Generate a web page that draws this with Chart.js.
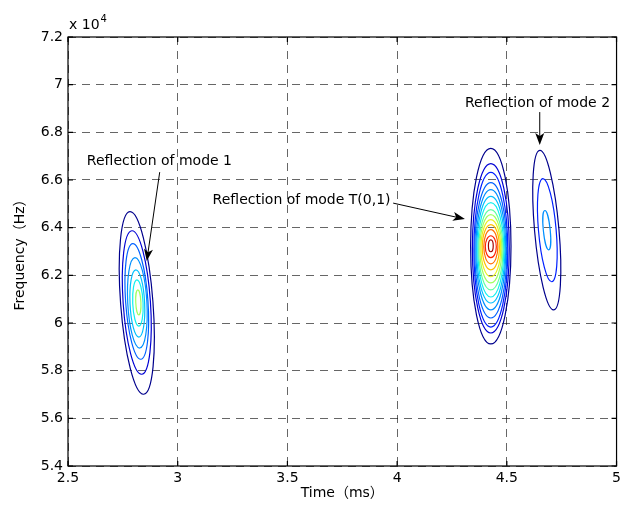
<!DOCTYPE html>
<html>
<head>
<meta charset="utf-8">
<script src="https://cdn.jsdelivr.net/npm/chart.js@4.4.0/dist/chart.umd.min.js"></script>
<style>
  html, body { margin: 0; padding: 0; background: #fff; }
  #chart { display: block; }
</style>
</head>
<body>
<canvas id="chart" width="625" height="509"></canvas>
<script>
// Trục
const xMin = 2.5, xMax = 5, xStep = 0.5;
const yMin = 5.4, yMax = 7.2, yStep = 0.2;

// Đường đồng mức: đỉnh, đáy (ms, x10^4 Hz) và nửa bề rộng (ms)
const mode1TopX = [2.782, 2.791, 2.795, 2.805, 2.809, 2.814, 2.818];
const mode1TopY = [6.467, 6.387, 6.333, 6.274, 6.223, 6.181, 6.139];
const mode1BottomX = [2.845, 2.836, 2.832, 2.827, 2.823, 2.823, 2.823];
const mode1BottomY = [5.701, 5.785, 5.848, 5.895, 5.941, 5.987, 6.034];
const mode1HalfWidth = [0.080, 0.066, 0.054, 0.045, 0.034, 0.024, 0.012];
const mode1Level = [1, 2, 4, 5, 6, 7, 9];

const t01TopX = [4.427, 4.427, 4.427, 4.427, 4.427, 4.427, 4.427, 4.427, 4.427, 4.427, 4.427, 4.427, 4.427, 4.427];
const t01TopY = [6.733, 6.669, 6.632, 6.589, 6.560, 6.531, 6.505, 6.476, 6.455, 6.434, 6.413, 6.392, 6.366, 6.349];
const t01BottomX = [4.427, 4.427, 4.427, 4.427, 4.427, 4.427, 4.427, 4.427, 4.427, 4.427, 4.427, 4.427, 4.427, 4.427];
const t01BottomY = [5.912, 5.958, 5.983, 6.021, 6.055, 6.084, 6.109, 6.139, 6.168, 6.194, 6.223, 6.248, 6.274, 6.299];
const t01HalfWidth = [0.092, 0.084, 0.077, 0.073, 0.068, 0.064, 0.059, 0.055, 0.050, 0.045, 0.039, 0.032, 0.025, 0.011];
const t01Level = [1, 2, 3, 4, 5, 6, 7, 8, 9, 10, 11, 12, 13, 14];

const mode2TopX = [4.650, 4.664, 4.673];
const mode2TopY = [6.724, 6.606, 6.472];
const mode2BottomX = [4.714, 4.705, 4.691];
const mode2BottomY = [6.055, 6.173, 6.307];
const mode2HalfWidth = [0.064, 0.045, 0.018];
const mode2Level = [1, 3, 5];

// Chú thích và mũi tên
const noteTexts = ['Reflection of mode 1', 'Reflection of mode T(0,1)', 'Reflection of mode 2'];
const noteX = [2.586, 3.159, 4.309];
const noteY = [6.680, 6.516, 6.923];
const arrowFromX = [2.918, 3.982, 4.650];
const arrowFromY = [6.633, 6.503, 6.885];
const arrowToX = [2.859, 4.309, 4.650];
const arrowToY = [6.260, 6.436, 6.747];

// Bảng màu kiểu jet theo mức
const levelColors = [null, '#00008c', '#0000d4', '#0020ff', '#0060ff', '#0090ff', '#00c0ff',
  '#10f0ef', '#60ffa0', '#a0ff60', '#e8f020', '#ffc000', '#ff7000', '#ff2000', '#a00000'];

const FONT = "'DejaVu Sans', 'Noto Sans CJK SC', sans-serif";

const groups = [
  [mode1TopX, mode1TopY, mode1BottomX, mode1BottomY, mode1HalfWidth, mode1Level],
  [t01TopX, t01TopY, t01BottomX, t01BottomY, t01HalfWidth, t01Level],
  [mode2TopX, mode2TopY, mode2BottomX, mode2BottomY, mode2HalfWidth, mode2Level]
];

function drawContour(ctx, x, y, tX, tY, bX, bY, hw, color) {
  const tx = x.getPixelForValue(tX), ty = y.getPixelForValue(tY);
  const bx = x.getPixelForValue(bX), by = y.getPixelForValue(bY);
  const cx = (tx + bx) / 2, cy = (ty + by) / 2;
  const dx = (bx - tx) / 2, dy = (by - ty) / 2;
  const a = Math.hypot(dx, dy);
  const rot = -Math.atan2(dx, dy);
  const hwPx = x.getPixelForValue(tX + hw) - tx;
  const b = Math.sqrt(Math.max(hwPx * hwPx - dx * dx, 1)) / Math.cos(rot);
  ctx.beginPath();
  ctx.ellipse(cx, cy, b, a, rot, 0, Math.PI * 2);
  ctx.strokeStyle = color;
  ctx.stroke();
}

function drawArrow(ctx, x1, y1, x2, y2) {
  const ang = Math.atan2(y2 - y1, x2 - x1);
  const len = 12, half = 4.5, notch = 3;
  ctx.beginPath();
  ctx.moveTo(x1, y1);
  ctx.lineTo(x2 - Math.cos(ang) * (len - notch), y2 - Math.sin(ang) * (len - notch));
  ctx.stroke();
  const c = Math.cos(ang), s = Math.sin(ang);
  const pt = (u, v) => [x2 - c * u - s * v, y2 - s * u + c * v];
  ctx.beginPath();
  ctx.moveTo(x2, y2);
  ctx.lineTo(...pt(len, half));
  ctx.lineTo(...pt(len - notch, 0));
  ctx.lineTo(...pt(len, -half));
  ctx.closePath();
  ctx.fill();
}

const contourPlugin = {
  id: 'contours',
  afterDatasetsDraw(chart) {
    const { ctx, chartArea, scales: { x, y } } = chart;
    const { left, right, top, bottom } = chartArea;

    // Các đường đồng mức
    ctx.save();
    ctx.beginPath();
    ctx.rect(left, top, right - left, bottom - top);
    ctx.clip();
    ctx.lineWidth = 1.2;
    groups.forEach(([tx, ty, bx, by, hw, lv]) => {
      for (let i = 0; i < tx.length; i++) {
        drawContour(ctx, x, y, tx[i], ty[i], bx[i], by[i], hw[i], levelColors[lv[i]]);
      }
    });
    ctx.restore();

    // Chú thích
    ctx.save();
    ctx.fillStyle = '#000';
    ctx.strokeStyle = '#000';
    ctx.lineWidth = 1;
    ctx.font = '14px ' + FONT;
    ctx.textBaseline = 'middle';
    ctx.textAlign = 'left';
    noteTexts.forEach((t, i) => {
      ctx.fillText(t, x.getPixelForValue(noteX[i]), y.getPixelForValue(noteY[i]));
      drawArrow(ctx, x.getPixelForValue(arrowFromX[i]), y.getPixelForValue(arrowFromY[i]),
        x.getPixelForValue(arrowToX[i]), y.getPixelForValue(arrowToY[i]));
    });

    // Khung và vạch chia hướng vào trong
    ctx.lineWidth = 1.2;
    ctx.strokeRect(left, top, right - left, bottom - top);
    ctx.beginPath();
    for (let v = xMin; v <= xMax + 1e-9; v += xStep) {
      const px = x.getPixelForValue(v);
      ctx.moveTo(px, bottom); ctx.lineTo(px, bottom - 5);
      ctx.moveTo(px, top); ctx.lineTo(px, top + 5);
    }
    for (let v = yMin; v <= yMax + 1e-9; v += yStep) {
      const py = y.getPixelForValue(v);
      ctx.moveTo(left, py); ctx.lineTo(left + 5, py);
      ctx.moveTo(right, py); ctx.lineTo(right - 5, py);
    }
    ctx.stroke();

    // Số mũ x 10^4
    ctx.textBaseline = 'alphabetic';
    ctx.font = '14px ' + FONT;
    ctx.fillText('x 10', left + 1, top - 8);
    const w = ctx.measureText('x 10').width;
    ctx.font = '10px ' + FONT;
    ctx.fillText('4', left + 2 + w, top - 15);
    ctx.restore();
  }
};

const fmt = v => String(Math.round(v * 10) / 10);

new Chart(document.getElementById('chart'), {
  type: 'scatter',
  data: { datasets: [{ data: [], showLine: false }] },
  options: {
    responsive: false,
    animation: false,
    devicePixelRatio: 1,
    layout: { padding: { top: 37, right: 7, left: 0, bottom: 0 } },
    plugins: { legend: { display: false }, tooltip: { enabled: false } },
    scales: {
      x: {
        type: 'linear', min: xMin, max: xMax,
        afterFit: s => { s.height = 43; },
        ticks: { stepSize: xStep, callback: fmt, color: '#000', padding: 4, font: { family: FONT, size: 14 } },
        grid: { color: 'rgba(0,0,0,0.6)', lineWidth: 1, drawTicks: false },
        border: { display: false, dash: [8, 6] },
        title: { display: true, text: 'Time（ms）', color: '#000', font: { family: FONT, size: 14 }, padding: { top: 0, bottom: 7 } }
      },
      y: {
        type: 'linear', min: yMin, max: yMax,
        afterFit: s => { s.width = 68; },
        ticks: { stepSize: yStep, callback: fmt, color: '#000', padding: 5, font: { family: FONT, size: 14 } },
        grid: { color: 'rgba(0,0,0,0.6)', lineWidth: 1, drawTicks: false },
        border: { display: false, dash: [8, 6] },
        title: { display: true, text: 'Frequency（Hz）', color: '#000', font: { family: FONT, size: 14 }, padding: { top: 12, bottom: 0 } }
      }
    }
  },
  plugins: [contourPlugin]
});
</script>
</body>
</html>
